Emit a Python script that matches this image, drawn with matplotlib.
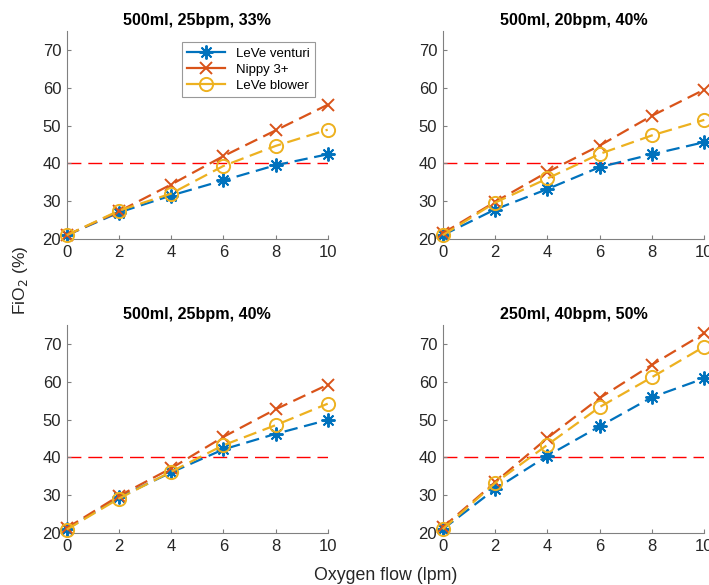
import numpy as np
import matplotlib
matplotlib.use("Agg")
import matplotlib.pyplot as plt
from matplotlib.lines import Line2D

plt.rcParams['font.family'] = ['Liberation Sans', 'DejaVu Sans']

flow = [0, 2, 4, 6, 8, 10]
titles = ["500ml, 25bpm, 33%", "500ml, 20bpm, 40%",
          "500ml, 25bpm, 40%", "250ml, 40bpm, 50%"]
series_names = ["LeVe venturi", "Nippy 3+", "LeVe blower"]

# FiO2 (%) per panel
venturi = [
    [21.0, 27.0, 31.5, 35.5, 39.5, 42.4],
    [21.0, 27.8, 33.2, 39.0, 42.4, 45.6],
    [21.0, 29.4, 36.0, 42.1, 46.2, 49.9],
    [21.0, 31.6, 40.4, 48.2, 55.9, 60.9],
]
nippy = [
    [21.0, 27.3, 34.4, 41.9, 48.7, 55.5],
    [21.5, 29.8, 37.7, 44.7, 52.6, 59.5],
    [21.3, 29.8, 37.1, 45.4, 52.7, 59.2],
    [21.5, 33.4, 45.1, 55.7, 64.5, 72.8],
]
blower = [
    [21.0, 27.5, 32.0, 39.3, 44.6, 48.9],
    [21.0, 29.6, 36.0, 42.5, 47.4, 51.5],
    [20.9, 29.1, 36.2, 43.2, 48.5, 54.2],
    [21.0, 33.2, 43.3, 53.3, 61.2, 69.3],
]
target = 40

colors = ['#0072BD', '#D95319', '#EDB120']
markers = [(8, 2, 0), 'x', 'o']
msizes = [10, 9, 9.5]

W, H = 709, 585
fig = plt.figure(figsize=(W / 100, H / 100), dpi=100)

# axes rectangles in pixels: left, right, top, bottom
boxes = [
    (66.7, 327.7, 31, 239),
    (442.7, 704.3, 31, 239),
    (66.7, 327.7, 325, 533),
    (442.7, 704.3, 325, 533),
]

for i, (l, r, t, b) in enumerate(boxes):
    ax = fig.add_axes([l / W, 1 - b / H, (r - l) / W, (b - t) / H])
    ax.plot([0, 10], [target, target], color='red', lw=1.0,
            dashes=(10, 5), zorder=1)
    for k, data in enumerate([venturi, nippy, blower]):
        ax.plot(flow, data[i], color=colors[k], lw=1.6, dashes=(6, 3),
                marker=markers[k], markersize=msizes[k],
                markerfacecolor='none', markeredgecolor=colors[k],
                markeredgewidth=1.4, clip_on=False, zorder=3)
    ax.set_xlim(0, 10)
    ax.set_ylim(20, 75)
    ax.set_xticks([0, 2, 4, 6, 8, 10])
    ax.set_yticks([20, 30, 40, 50, 60, 70])
    for s in ['top', 'right']:
        ax.spines[s].set_visible(False)
    for s in ['left', 'bottom']:
        ax.spines[s].set_color('#808080')
        ax.spines[s].set_linewidth(0.8)
    ax.tick_params(direction='in', length=3, width=0.8, color='#808080',
                   labelsize=12, labelcolor='#262626', pad=4)
    ax.set_title(titles[i], fontsize=11.6, fontweight='bold', pad=4.5)

    if i == 0:
        handles = [Line2D([], [], color=colors[k], lw=1.6, marker=markers[k],
                          markersize=msizes[k], markerfacecolor='none',
                          markeredgewidth=1.4)
                   for k in range(3)]
        leg = ax.legend(handles, series_names, loc='upper right',
                        bbox_to_anchor=(315 / W, 1 - 42 / H),
                        bbox_transform=fig.transFigure,
                        fontsize=9.5, frameon=True, fancybox=False,
                        handlelength=2.9, handletextpad=0.8,
                        borderpad=0.4, labelspacing=0.3,
                        borderaxespad=0)
        leg.get_frame().set_edgecolor('#808080')
        leg.get_frame().set_linewidth(0.8)

fig.text(20 / W, 1 - 280 / H, "FiO$_2$ (%)", rotation=90, fontsize=12.5,
         ha='center', va='center', color='#262626')
fig.text(386 / W, 1 - 576 / H, "Oxygen flow (lpm)", fontsize=12.8,
         ha='center', va='center', color='#262626')

fig.savefig("out.png", dpi=100)
